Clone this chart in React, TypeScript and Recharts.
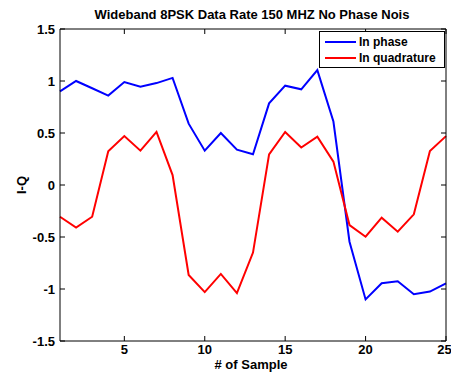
import { LineChart, Line, XAxis, YAxis, Legend } from "recharts";

const samples = [1, 2, 3, 4, 5, 6, 7, 8, 9, 10, 11, 12, 13, 14, 15, 16, 17, 18, 19, 20, 21, 22, 23, 24, 25];
const inPhase = [0.9, 1.0, 0.93, 0.86, 0.99, 0.945, 0.98, 1.03, 0.59, 0.33, 0.5, 0.34, 0.295, 0.785, 0.955, 0.92, 1.105, 0.61, -0.545, -1.1, -0.945, -0.925, -1.05, -1.025, -0.945];
const inQuadrature = [-0.305, -0.41, -0.305, 0.325, 0.47, 0.33, 0.51, 0.095, -0.865, -1.03, -0.855, -1.04, -0.65, 0.295, 0.51, 0.36, 0.465, 0.225, -0.385, -0.497, -0.314, -0.449, -0.282, 0.327, 0.47];
const xTicks = [5, 10, 15, 20, 25];
const yTicks = [-1.5, -1, -0.5, 0, 0.5, 1, 1.5];
const title = "Wideband 8PSK Data Rate 150 MHZ No Phase Nois";

const data = samples.map((s, i) => ({ s, i: inPhase[i], q: inQuadrature[i] }));

const font = "'Liberation Sans', Arial, sans-serif";
const tickStyle = { fill: "#000", fontSize: 13, fontWeight: 700, fontFamily: font };

if (typeof document !== "undefined") document.body.style.margin = "0";

// tick marks only, no labels
const noLabel = () => <g />;

const LegendBox = () => (
  <div
    style={{
      width: 126,
      height: 37,
      border: "1px solid #000",
      background: "#fff",
      fontFamily: font,
      fontWeight: 700,
      fontSize: 12,
      color: "#000",
      boxSizing: "border-box",
      paddingTop: 2,
    }}
  >
    {[
      { name: "In phase", color: "#0000ff" },
      { name: "In quadrature", color: "#ff0000" },
    ].map((e) => (
      <div key={e.name} style={{ display: "flex", alignItems: "center", height: 16 }}>
        <div style={{ width: 31, height: 2, background: e.color, marginLeft: 5, marginRight: 3 }} />
        <span>{e.name}</span>
      </div>
    ))}
  </div>
);

export default function App() {
  return (
    <LineChart width={451} height={374} data={data} margin={{ top: 28, right: 0, left: 0, bottom: 0 }}>
      <XAxis
        dataKey="s"
        type="number"
        domain={[1, 25]}
        ticks={xTicks}
        height={33}
        tickSize={-5}
        tickMargin={9}
        tick={tickStyle}
        stroke="#000"
        label={{
          content: ({ viewBox }: any) => (
            <text
              x={viewBox.x + viewBox.width / 2 - 2}
              y={369}
              textAnchor="middle"
              style={{ ...tickStyle }}
            >
              # of Sample
            </text>
          ),
        }}
      />
      <XAxis
        xAxisId="top"
        orientation="top"
        dataKey="s"
        type="number"
        domain={[1, 25]}
        ticks={xTicks}
        height={1}
        tickSize={-5}
        tick={noLabel}
        stroke="#000"
        label={{
          content: () => (
            <text x={252} y={19} textAnchor="middle" style={{ ...tickStyle }}>
              {title}
            </text>
          ),
        }}
      />
      <YAxis
        type="number"
        domain={[-1.5, 1.5]}
        ticks={yTicks}
        width={60}
        tickSize={-5}
        tickMargin={10}
        tick={tickStyle}
        stroke="#000"
        label={{
          content: ({ viewBox }: any) => (
            <text
              x={26}
              y={viewBox.y + viewBox.height / 2}
              textAnchor="middle"
              transform={`rotate(-90 26 ${viewBox.y + viewBox.height / 2})`}
              style={{ ...tickStyle }}
            >
              I-Q
            </text>
          ),
        }}
      />
      <YAxis
        yAxisId="right"
        orientation="right"
        type="number"
        domain={[-1.5, 1.5]}
        ticks={yTicks}
        width={5}
        tickSize={-5}
        tick={noLabel}
        stroke="#000"
      />
      <Legend
        layout="vertical"
        align="center"
        verticalAlign="middle"
        wrapperStyle={{ top: 31, left: 319, width: 126 }}
        content={() => <LegendBox />}
      />
      <Line dataKey="i" stroke="#0000ff" strokeWidth={2} dot={false} isAnimationActive={false} />
      <Line
        dataKey="q"
        xAxisId="top"
        yAxisId="right"
        stroke="#ff0000"
        strokeWidth={2}
        dot={false}
        isAnimationActive={false}
      />
    </LineChart>
  );
}
